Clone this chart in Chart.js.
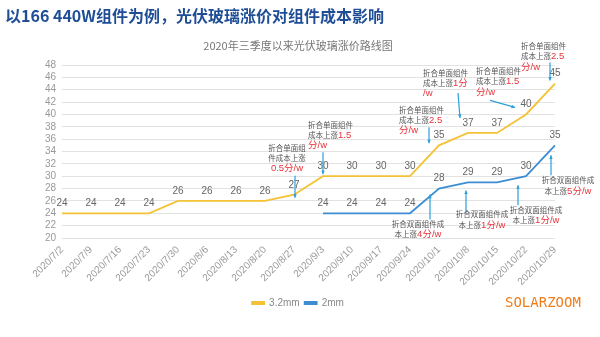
<!DOCTYPE html>
<html>
<head>
<meta charset="utf-8">
<script src="https://cdn.jsdelivr.net/npm/chart.js@4/dist/chart.umd.min.js"></script>
<style>
  html, body { margin: 0; padding: 0; background: #fff; }
  #wrap { width: 600px; height: 337px; }
</style>
</head>
<body>
<div id="wrap"><canvas id="chart" width="600" height="337"></canvas></div>
<script>
// data
const dates = ["2020/7/2", "2020/7/9", "2020/7/16", "2020/7/23", "2020/7/30",
  "2020/8/6", "2020/8/13", "2020/8/20", "2020/8/27", "2020/9/3", "2020/9/10",
  "2020/9/17", "2020/9/24", "2020/10/1", "2020/10/8", "2020/10/15",
  "2020/10/22", "2020/10/29"];
const glass32 = [24, 24, 24, 24, 26, 26, 26, 26, 27, 30, 30, 30, 30, 35, 37, 37, 40, 45];
const glass2 = [null, null, null, null, null, null, null, null, null,
  24, 24, 24, 24, 28, 29, 29, 30, 35];
const seriesNames = ["3.2mm", "2mm"];
const yMin = 20, yMax = 48, yStep = 2;

const mainTitle = "以166 440W组件为例，光伏玻璃涨价对组件成本影响";
const chartTitle = "2020年三季度以来光伏玻璃涨价路线图";
const brand = "SOLARZOOM";

const FONT = "'Liberation Sans', 'Noto Sans CJK SC', sans-serif";
const CJK = "'Noto Sans CJK SC', 'Liberation Sans', sans-serif";
const YELLOW = "#F4C234";
const BLUE = "#3D8DD3";
const ARROW = "#2A9FDB";
const RED = "#E8333B";

// annotation callouts: anchored to a point (dataset, index), offsets in px
// each line is a list of [text, isRed]
const notes = [
  { ds: 0, i: 8, align: "center", dx: -7, dy: [-47, -37, -26],
    lines: [[["折合单面组", 0]], [["件成本上涨", 0]], [["0.5分/w", 1]]],
    arrow: [1, -19, 1, 3] },
  { ds: 0, i: 9, align: "left", dx: -15, dy: [-51, -41, -31],
    lines: [[["折合单面组件", 0]], [["成本上涨", 0], ["1.5", 1]], [["分/w", 1]]],
    arrow: [0, -24, 0, -2] },
  { ds: 0, i: 13, align: "left", dx: -40, dy: [-35, -25, -15],
    lines: [[["折合单面组件", 0]], [["成本上涨", 0], ["2.5", 1]], [["分/w", 1]]],
    arrow: [-10, -18, -10, -2] },
  { ds: 0, i: 14, align: "left", dx: -45, dy: [-60, -50, -40],
    lines: [[["折合单面组件", 0]], [["成本上涨", 0], ["1分", 1]], [["/w", 1]]],
    arrow: [-10, -40, -8, -15] },
  { ds: 0, i: 16, align: "left", dx: -50, dy: [-43, -33, -22],
    lines: [[["折合单面组件", 0]], [["成本上涨", 0], ["1.5", 1]], [["分/w", 1]]],
    arrow: [-36, -14, -11, -7] },
  { ds: 0, i: 17, align: "left", dx: -34, dy: [-37, -27, -16],
    lines: [[["折合单面组件", 0]], [["成本上涨", 0], ["2.5", 1]], [["分/w", 1]]],
    arrow: [-5, -21, -5, -3] },
  { ds: 1, i: 13, align: "center", dx: -21, dy: [36, 46],
    lines: [[["折合双面组件成", 0]], [["本上涨", 0], ["4分/w", 1]]],
    arrow: [-9, 31, -9, 6] },
  { ds: 1, i: 14, align: "center", dx: 14, dy: [32, 43],
    lines: [[["折合双面组件成", 0]], [["本上涨", 0], ["1分/w", 1]]],
    arrow: [-2, 30, -2, 8] },
  { ds: 1, i: 16, align: "center", dx: 10, dy: [34, 44],
    lines: [[["折合双面组件成", 0]], [["本上涨", 0], ["1分/w", 1]]],
    arrow: [-8, 29, -8, 9] },
  { ds: 1, i: 17, align: "center", dx: 13, dy: [35, 46],
    lines: [[["折合双面组件成", 0]], [["本上涨", 0], ["5分/w", 1]]],
    arrow: [-4, 30, -4, 10] }
];

function drawArrow(ctx, x1, y1, x2, y2) {
  ctx.beginPath();
  ctx.moveTo(x1, y1);
  ctx.lineTo(x2, y2);
  ctx.stroke();
  const a = Math.atan2(y2 - y1, x2 - x1);
  ctx.beginPath();
  ctx.moveTo(x2, y2);
  ctx.lineTo(x2 - 4 * Math.cos(a - 0.45), y2 - 4 * Math.sin(a - 0.45));
  ctx.lineTo(x2 - 4 * Math.cos(a + 0.45), y2 - 4 * Math.sin(a + 0.45));
  ctx.closePath();
  ctx.fill();
}

// titles, value labels, callouts, brand
const extras = {
  id: "extras",
  afterDatasetsDraw(chart) {
    const ctx = chart.ctx;
    ctx.save();
    ctx.font = "10px " + FONT;
    ctx.fillStyle = "#666";
    ctx.textAlign = "center";
    ctx.textBaseline = "middle";
    chart.data.datasets.forEach((ds, d) => {
      chart.getDatasetMeta(d).data.forEach((p, i) => {
        if (ds.data[i] == null) return;
        ctx.fillText(ds.data[i], p.x, p.y - 10);
      });
    });
    ctx.restore();
  },
  afterDraw(chart) {
    const ctx = chart.ctx;
    ctx.save();
    ctx.textBaseline = "middle";
    ctx.textAlign = "left";
    ctx.font = "bold 16px " + CJK;
    ctx.fillStyle = "#1F4E96";
    ctx.fillText(mainTitle, 5, 16);

    ctx.textAlign = "center";
    ctx.font = "11px " + CJK;
    ctx.fillStyle = "#777";
    ctx.fillText(chartTitle, 298, 46);

    ctx.textAlign = "left";
    ctx.font = "14px 'DejaVu Sans Mono', monospace";
    ctx.fillStyle = "#F07D1A";
    ctx.fillText(brand, 505, 303);

    const grayFont = "7.5px " + CJK;
    const redFont = "9.5px " + FONT;
    notes.forEach(n => {
      const p = chart.getDatasetMeta(n.ds).data[n.i];
      ctx.strokeStyle = ARROW;
      ctx.fillStyle = ARROW;
      ctx.lineWidth = 1.2;
      drawArrow(ctx, p.x + n.arrow[0], p.y + n.arrow[1], p.x + n.arrow[2], p.y + n.arrow[3]);
      n.lines.forEach((segs, k) => {
        let w = 0;
        segs.forEach(s => { ctx.font = s[1] ? redFont : grayFont; w += ctx.measureText(s[0]).width; });
        let x = n.align === "center" ? p.x + n.dx - w / 2 : p.x + n.dx;
        const y = p.y + n.dy[k];
        segs.forEach(s => {
          ctx.font = s[1] ? redFont : grayFont;
          ctx.fillStyle = s[1] ? RED : "#555";
          ctx.fillText(s[0], x, y);
          x += ctx.measureText(s[0]).width;
        });
      });
    });
    ctx.restore();
  }
};

const ctx = document.getElementById("chart").getContext("2d");
const chart = new Chart(ctx, {
  type: "line",
  data: {
    labels: dates,
    datasets: [
      { label: seriesNames[0], data: glass32, borderColor: YELLOW, backgroundColor: YELLOW,
        borderWidth: 1.8, pointRadius: 0, tension: 0 },
      { label: seriesNames[1], data: glass2, borderColor: BLUE, backgroundColor: BLUE,
        borderWidth: 1.8, pointRadius: 0, tension: 0, spanGaps: false }
    ]
  },
  options: {
    responsive: false,
    animation: false,
    layout: { padding: { left: 41, right: 45, top: 65, bottom: 19 } },
    plugins: {
      legend: {
        position: "bottom",
        labels: {
          boxWidth: 12, boxHeight: 2, padding: 5,
          color: "#888", font: { size: 10, family: FONT }
        }
      },
      title: { display: false },
      tooltip: { enabled: false }
    },
    scales: {
      x: {
        offset: false,
        grid: { display: false, drawTicks: false },
        border: { display: false },
        ticks: {
          autoSkip: false, maxRotation: 45, minRotation: 45, padding: 6,
          color: "#999", font: { size: 10, family: FONT }
        },
        afterFit: s => { s.height = 55; }
      },
      y: {
        min: yMin, max: yMax,
        grid: { color: "#E2E2E2", drawTicks: false },
        border: { display: false },
        ticks: {
          stepSize: yStep, autoSkip: false, padding: 6,
          color: "#999", font: { size: 10, family: FONT }
        },
        afterFit: s => { s.width = 21; }
      }
    }
  },
  plugins: [extras]
});
</script>
</body>
</html>
